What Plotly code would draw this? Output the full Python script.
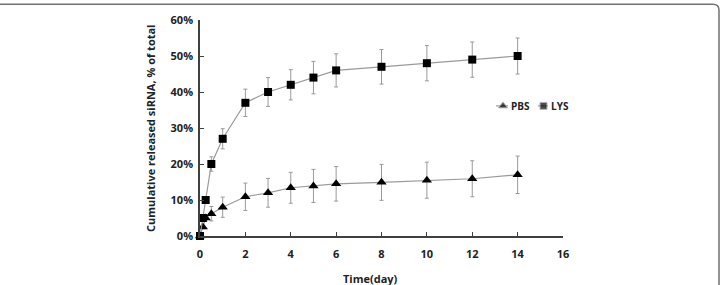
import plotly.graph_objects as go

time_days = [0, 0.125, 0.25, 0.5, 1, 2, 3, 4, 5, 6, 8, 10, 12, 14]
pbs_values = [0, 2.5, 5, 6.2, 8, 10.9, 12, 13.4, 13.9, 14.5, 14.9, 15.5, 15.9, 17]
pbs_errors = [0, 0.5, 0.8, 2, 2.8, 3.8, 4, 4.3, 4.6, 4.8, 5, 5, 5, 5.2]
lys_values = [0, 5, 10, 20, 27, 37, 40, 42, 44, 46, 47, 48, 49, 50]
lys_errors = [0, 0.5, 0.5, 2, 2.8, 3.8, 4, 4.2, 4.5, 4.6, 4.8, 4.9, 4.9, 5]
x_ticks = [0, 2, 4, 6, 8, 10, 12, 14, 16]
y_ticks = [0, 10, 20, 30, 40, 50, 60]
y_tick_labels = ["0%", "10%", "20%", "30%", "40%", "50%", "60%"]
series_names = ["PBS", "LYS"]

L, R, T, B = 200, 158, 18, 49
W, H = 721, 285
pw, ph = W - L - R, H - T - B

def px(x):
    return (x - L) / pw

def py(y):
    return (H - B - y) / ph

FONT = "Open Sans"
TXT = "#222222"
GRAY = "#9a9a9a"
symbols = ["triangle-up", "square"]
sizes = [9, 8]

fig = go.Figure()
for name, vals, errs, sym, sz in zip(series_names, [pbs_values, lys_values],
                                     [pbs_errors, lys_errors], symbols, sizes):
    fig.add_trace(go.Scatter(
        x=time_days, y=vals, name=name, mode="lines+markers",
        line=dict(color=GRAY, width=1.2),
        marker=dict(symbol=sym, size=sz, color="black"),
        error_y=dict(type="data", array=errs, color=GRAY, thickness=1, width=2),
        cliponaxis=False, showlegend=False,
    ))

# custom compact legend (pixel-coordinate overlay axes)
legend_x = [(496, 503, 508), (538, 543.5, 548)]
legend_y = 104.7
for name, sym, sz, (x0, xm, x1) in zip(series_names, symbols, [8, 7], legend_x):
    fig.add_trace(go.Scatter(
        x=[x0, xm, x1], y=[legend_y] * 3, mode="lines+markers", xaxis="x2", yaxis="y2",
        line=dict(color=GRAY, width=1.2),
        marker=dict(symbol=sym, size=[0, sz, 0], color="black"),
        showlegend=False, hoverinfo="skip",
    ))
    fig.add_annotation(text=name, xref="x2", yref="y2", x=x1 + 0.5, y=legend_y,
                       xanchor="left", yanchor="middle", showarrow=False,
                       font=dict(family=FONT, size=10, color=TXT, weight="bold"))

tickfont = dict(family=FONT, size=11, color=TXT, weight="bold")
fig.update_layout(
    width=W, height=H,
    margin=dict(l=L, r=R, t=T, b=B),
    paper_bgcolor="white", plot_bgcolor="white",
    showlegend=False,
    xaxis=dict(range=[0, 16], tickvals=x_ticks, ticks="inside", ticklen=4, tickcolor="#404040",
               showline=True, linecolor="#404040", linewidth=1.5, showgrid=False, zeroline=False,
               tickfont=tickfont, ticklabelstandoff=7),
    yaxis=dict(range=[0, 60], tickvals=y_ticks, ticktext=y_tick_labels, ticks="inside", ticklen=4,
               tickcolor="#404040", showline=True, linecolor="#404040", linewidth=1.5,
               showgrid=False, zeroline=False, tickfont=tickfont, ticklabelstandoff=3),
    xaxis2=dict(range=[L, W - R], overlaying="x", visible=False, fixedrange=True),
    yaxis2=dict(range=[H - B, T], overlaying="y", visible=False, fixedrange=True),
    annotations=list(fig.layout.annotations) + [
        dict(text="Cumulative released siRNA, % of total", xref="paper", yref="paper",
             x=px(151), y=py(128), xanchor="center", yanchor="middle", textangle=-90,
             showarrow=False, font=dict(family=FONT, size=11, color=TXT, weight="bold")),
        dict(text="Time(day)", xref="paper", yref="paper", x=px(370), y=py(279),
             xanchor="center", yanchor="middle",
             showarrow=False, font=dict(family=FONT, size=11, color=TXT, weight="bold")),
    ],
)

r = 6
path = (f"M {px(0)},{py(2)} L {px(719 - r)},{py(2)} "
        f"Q {px(719)},{py(2)} {px(719)},{py(2 + r)} L {px(719)},{py(290)}")
fig.add_shape(type="path", xref="paper", yref="paper", path=path,
              line=dict(color="#707070", width=1.5))

fig.write_html("out.html")
